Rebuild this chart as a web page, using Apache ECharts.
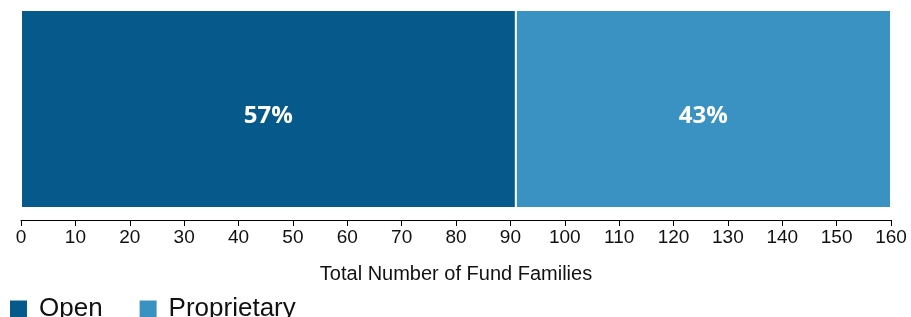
<!DOCTYPE html>
<html>
<head>
<meta charset="utf-8">
<script src="https://cdn.jsdelivr.net/npm/echarts@6/dist/echarts.min.js"></script>
<style>
  html, body { margin: 0; padding: 0; background: #fff; }
  #chart { width: 911px; height: 317px; }
</style>
</head>
<body>
<div id="chart"></div>
<script>
// data
const categories = ['Fund Families'];
const seriesNames = ['Open', 'Proprietary'];
const openValues = [91];
const proprietaryValues = [69];
const axisMin = 0, axisMax = 160, axisStep = 10;

const colors = ['#065a8b', '#3a92c2'];

let myChart = echarts.init(document.getElementById('chart'));

const total = openValues[0] + proprietaryValues[0];
const pctLabel = function (p) {
    return Math.round(p.value / total * 100) + '%';
};

const barLabel = {
    show: true,
    position: 'inside',
    formatter: pctLabel,
    color: '#fff',
    fontFamily: 'Open Sans',
    fontWeight: 'bold',
    fontSize: 24,
    offset: [0, 7]
};

let option = {
    animation: false,
    grid: { left: 21, right: 20, top: 10, bottom: 109 },
    xAxis: {
        type: 'value',
        min: axisMin,
        max: axisMax,
        interval: axisStep,
        offset: 12,
        splitLine: { show: false },
        axisLine: { show: true, lineStyle: { color: '#000', width: 1 } },
        axisTick: { show: true, length: 6, lineStyle: { color: '#000' } },
        axisLabel: {
            color: '#111',
            fontFamily: 'Liberation Sans',
            fontSize: 19,
            margin: 8
        },
        name: 'Total Number of Fund Families',
        nameLocation: 'middle',
        nameGap: 44,
        nameTextStyle: {
            color: '#111',
            fontFamily: 'Liberation Sans',
            fontSize: 20
        }
    },
    yAxis: {
        type: 'category',
        data: categories,
        show: false
    },
    legend: {
        left: 8,
        top: 296,
        padding: 0,
        itemWidth: 19,
        itemHeight: 19,
        itemGap: 35,
        icon: 'rect',
        data: seriesNames,
        textStyle: {
            color: '#111',
            fontFamily: 'Liberation Sans',
            fontSize: 26,
            padding: [0, 0, 0, 6]
        }
    },
    series: [
        {
            name: seriesNames[0],
            type: 'bar',
            stack: 'total',
            barWidth: '100%',
            data: openValues,
            itemStyle: { color: colors[0], borderColor: '#fff', borderWidth: 1 },
            label: barLabel
        },
        {
            name: seriesNames[1],
            type: 'bar',
            stack: 'total',
            barWidth: '100%',
            data: proprietaryValues,
            itemStyle: { color: colors[1], borderColor: '#fff', borderWidth: 1 },
            label: barLabel
        }
    ]
};

option && myChart.setOption(option);
</script>
</body>
</html>
